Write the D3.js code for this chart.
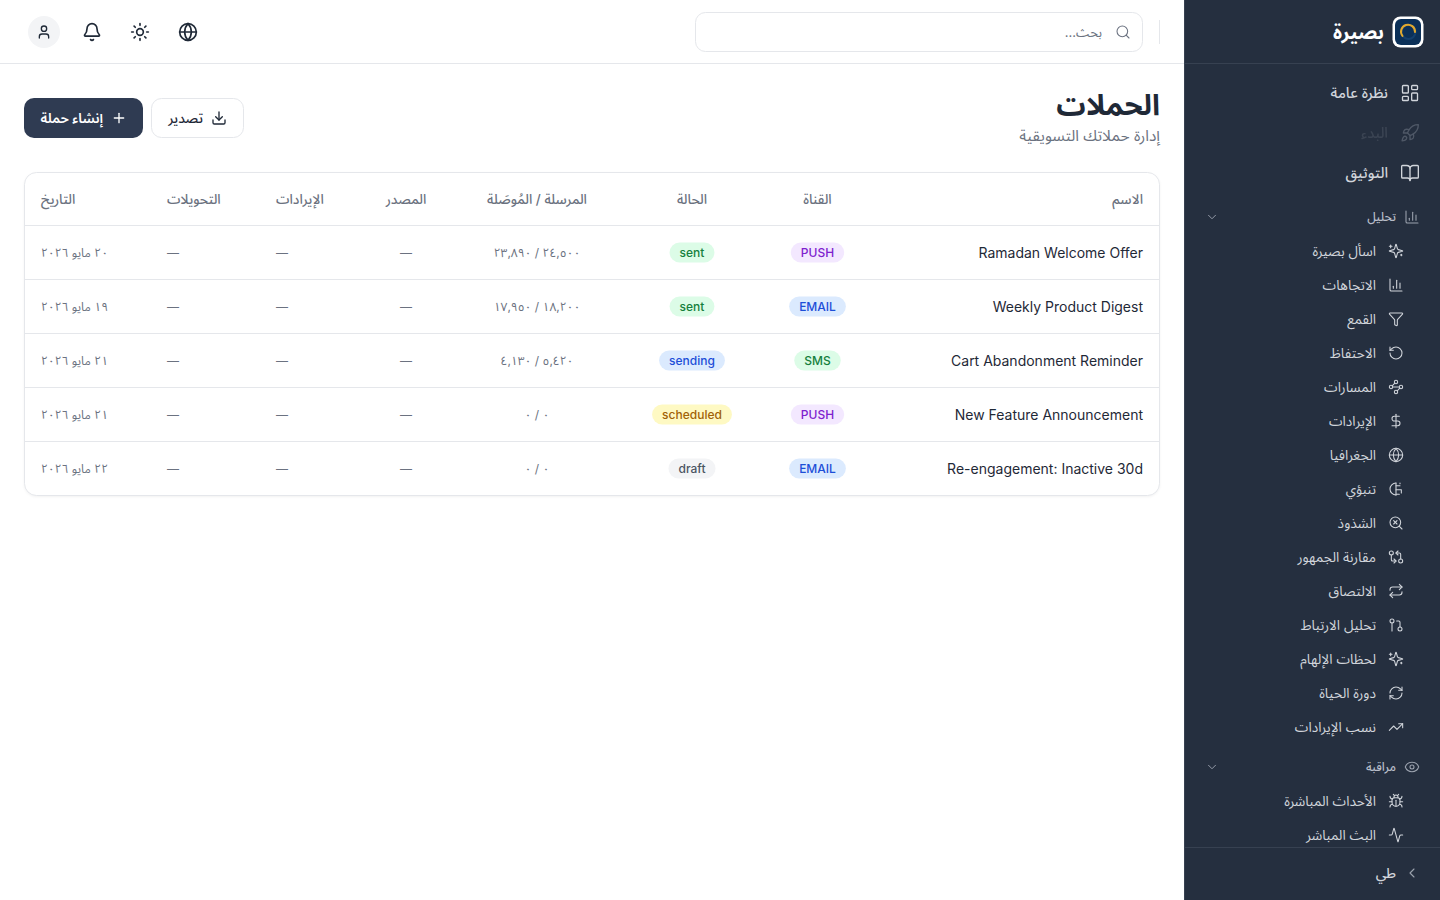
<!DOCTYPE html>
<html lang="ar">
<head>
  <meta charset="utf-8">
  <title>الحملات</title>
  <script src="https://d3js.org/d3.v7.min.js"></script>
  <style>
    html, body { margin: 0; padding: 0; background: #fff; overflow: hidden; }
    svg { display: block; font-family: Inter, "Noto Sans Arabic", "Noto Sans", sans-serif; }
  </style>
</head>
<body>
  <div id="page"></div>
  <script>
    // table data
    const names = ["Ramadan Welcome Offer", "Weekly Product Digest", "Cart Abandonment Reminder", "New Feature Announcement", "Re-engagement: Inactive 30d"];
    const channels = ["PUSH", "EMAIL", "SMS", "PUSH", "EMAIL"];
    const statuses = ["sent", "sent", "sending", "scheduled", "draft"];
    const sent = [24500, 18200, 5420, 0, 0];
    const delivered = [23890, 17950, 4130, 0, 0];
    const days = [20, 19, 21, 21, 22];
    const headers = ["الاسم", "القناة", "الحالة", "المرسلة / المُوصَلة", "المصدر", "الإيرادات", "التحويلات", "التاريخ"];

    // sidebar data
    const topItems = [["نظرة عامة", "dashboard"], ["البدء", "rocket"], ["التوثيق", "book"]];
    const analysisItems = [
      ["اسأل بصيرة", "sparkles"], ["الاتجاهات", "chart"], ["القمع", "filter"], ["الاحتفاظ", "rotate"],
      ["المسارات", "waypoints"], ["الإيرادات", "dollar"], ["الجغرافيا", "globe"], ["تنبؤي", "predict"],
      ["الشذوذ", "searchx"], ["مقارنة الجمهور", "compare"], ["الالتصاق", "repeat"], ["تحليل الارتباط", "correlate"],
      ["لحظات الإلهام", "sparkles"], ["دورة الحياة", "refresh"], ["نسب الإيرادات", "trending"]
    ];
    const monitorItems = [["الأحداث المباشرة", "bug"], ["البث المباشر", "activity"]];

    const circle = (cx, cy, r) => `M${cx - r} ${cy}a${r} ${r} 0 1 0 ${2 * r} 0a${r} ${r} 0 1 0 ${-2 * r} 0`;
    const box = (x, y, w, h, r) => `M${x + r} ${y}h${w - 2 * r}a${r} ${r} 0 0 1 ${r} ${r}v${h - 2 * r}a${r} ${r} 0 0 1 ${-r} ${r}h${-(w - 2 * r)}a${r} ${r} 0 0 1 ${-r} ${-r}v${-(h - 2 * r)}a${r} ${r} 0 0 1 ${r} ${-r}z`;

    // lucide style outlines on a 24 grid
    const icons = {
      dashboard: [box(3, 3, 7, 9, 1), box(14, 3, 7, 5, 1), box(14, 12, 7, 9, 1), box(3, 16, 7, 5, 1)],
      rocket: ["M4.5 16.5c-1.5 1.26-2 5-2 5s3.74-.5 5-2c.71-.84.7-2.13-.09-2.91a2.18 2.18 0 0 0-2.91-.09z", "m12 15-3-3a22 22 0 0 1 2-3.95A12.88 12.88 0 0 1 22 2c0 2.72-.78 7.5-6 11a22.35 22.35 0 0 1-4 2z", "M9 12H4s.55-3.03 2-4c1.62-1.08 5 0 5 0", "M12 15v5s3.03-.55 4-2c1.08-1.62 0-5 0-5"],
      book: ["M12 7v14", "M3 18a1 1 0 0 1-1-1V4a1 1 0 0 1 1-1h5a4 4 0 0 1 4 4 4 4 0 0 1 4-4h5a1 1 0 0 1 1 1v13a1 1 0 0 1-1 1h-6a3 3 0 0 0-3 3 3 3 0 0 0-3-3z"],
      chart: ["M3 3v16a2 2 0 0 0 2 2h16", "M18 17V9", "M13 17V5", "M8 17v-3"],
      sparkles: ["M14.063 15.5A2 2 0 0 1 15.5 14.063l6.135-1.582a.5.5 0 0 0 0-.962L15.5 9.936A2 2 0 0 1 14.063 8.5l-1.582-6.135a.5.5 0 0 0-.963 0L9.937 8.5A2 2 0 0 1 8.5 9.937l-6.135 1.581a.5.5 0 0 0 0 .964L8.5 14.063a2 2 0 0 1 1.437 1.437l1.582 6.135a.5.5 0 0 0 .963 0z", "M4 3v4", "M2 5h4", "M20 17v2", "M19 18h2"],
      filter: ["M10 20a1 1 0 0 0 .553.895l2 1A1 1 0 0 0 14 21v-7a2 2 0 0 1 .517-1.341L21.74 4.67A1 1 0 0 0 21 3H3a1 1 0 0 0-.742 1.67l7.225 7.989A2 2 0 0 1 10 14z"],
      rotate: ["M3 12a9 9 0 1 0 9-9 9.75 9.75 0 0 0-6.74 2.74L3 8", "M3 3v5h5"],
      waypoints: [circle(12, 4.5, 2.5), "m10.2 6.3-3.9 3.9", circle(4.5, 12, 2.5), "M7 12h10", circle(19.5, 12, 2.5), "m13.8 17.7 3.9-3.9", circle(12, 19.5, 2.5)],
      dollar: ["M12 2v20", "M17 5H9.5a3.5 3.5 0 0 0 0 7h5a3.5 3.5 0 0 1 0 7H6"],
      globe: [circle(12, 12, 10), "M12 2a14.5 14.5 0 0 0 0 20 14.5 14.5 0 0 0 0-20", "M2 12h20"],
      predict: ["M12 3a9 9 0 0 0 0 18", "M12 3v18", "M12 7h6", "M18 3v1", "M12 13h7", "M20 13v5", "M12 20h5"],
      searchx: ["m13.5 8.5-5 5", "m8.5 8.5 5 5", circle(11, 11, 8), "m21 21-4.3-4.3"],
      compare: [circle(5, 6, 3), "M12 6h5a2 2 0 0 1 2 2v7", "m15 9-3-3 3-3", circle(19, 18, 3), "M12 18H7a2 2 0 0 1-2-2V9", "m9 15 3 3-3 3"],
      repeat: ["m17 2 4 4-4 4", "M3 11v-1a4 4 0 0 1 4-4h14", "m7 22-4-4 4-4", "M21 13v1a4 4 0 0 1-4 4H3"],
      correlate: [circle(18, 18, 3), circle(6, 6, 3), "M13 6h3a2 2 0 0 1 2 2v7", "M6 9v12"],
      refresh: ["M3 12a9 9 0 0 1 9-9 9.75 9.75 0 0 1 6.74 2.74L21 8", "M21 3v5h-5", "M21 12a9 9 0 0 1-9 9 9.75 9.75 0 0 1-6.74-2.74L3 16", "M8 16H3v5"],
      trending: ["M22 7 13.5 15.5 8.5 10.5 2 17", "M16 7h6v6"],
      eye: ["M2.062 12.348a1 1 0 0 1 0-.696 10.75 10.75 0 0 1 19.876 0 1 1 0 0 1 0 .696 10.75 10.75 0 0 1-19.876 0", circle(12, 12, 3)],
      bug: ["m8 2 1.88 1.88", "M14.12 3.88 16 2", "M9 7.13v-1a3.003 3.003 0 1 1 6 0v1", "M12 20c-3.3 0-6-2.7-6-6v-3a4 4 0 0 1 4-4h4a4 4 0 0 1 4 4v3c0 3.3-2.7 6-6 6", "M12 20v-9", "M6.53 9C4.6 8.8 3 7.1 3 5", "M6 13H2", "M3 21c0-2.1 1.7-3.9 3.8-4", "M20.97 5c0 2.1-1.6 3.8-3.5 4", "M22 13h-4", "M17.2 17c2.1.1 3.8 1.9 3.8 4"],
      activity: ["M22 12h-2.48a2 2 0 0 0-1.93 1.46l-2.35 8.36a.25.25 0 0 1-.48 0L9.24 2.18a.25.25 0 0 0-.48 0l-2.35 8.36A2 2 0 0 1 4.49 12H2"],
      chevronDown: ["m6 9 6 6 6-6"],
      chevronLeft: ["m15 18-6-6 6-6"],
      search: ["m21 21-4.34-4.34", circle(11, 11, 8)],
      bell: ["M10.268 21a2 2 0 0 0 3.464 0", "M3.262 15.326A1 1 0 0 0 4 17h16a1 1 0 0 0 .74-1.673C19.41 13.956 18 12.499 18 8A6 6 0 0 0 6 8c0 4.499-1.411 5.956-2.738 7.326"],
      sun: [circle(12, 12, 4), "M12 2v2", "M12 20v2", "m4.93 4.93 1.41 1.41", "m17.66 17.66 1.41 1.41", "M2 12h2", "M20 12h2", "m6.34 17.66-1.41 1.41", "m19.07 4.93-1.41 1.41"],
      user: ["M19 21v-2a4 4 0 0 0-4-4H9a4 4 0 0 0-4 4v2", circle(12, 7, 4)],
      download: ["M12 15V3", "M21 15v4a2 2 0 0 1-2 2H5a2 2 0 0 1-2-2v-4", "m7 10 5 5 5-5"],
      plus: ["M5 12h14", "M12 5v14"]
    };

    const width = 1440, height = 900;
    const svg = d3.select("#page").append("svg").attr("width", width).attr("height", height);

    function icon(name, cx, cy, size, color, sw = 2, opacity = 1) {
      const g = svg.append("g")
        .attr("transform", `translate(${cx - size / 2},${cy - size / 2}) scale(${size / 24})`)
        .attr("fill", "none").attr("stroke", color).attr("stroke-width", sw)
        .attr("stroke-linecap", "round").attr("stroke-linejoin", "round").attr("opacity", opacity);
      g.selectAll("path").data(icons[name]).join("path").attr("d", d => d);
    }

    // anchor is the visual side: "right", "left", "middle"
    function label(txt, x, y, size, color, weight = 400, anchor = "right", rtl = true, opacity = 1) {
      const a = anchor === "middle" ? "middle" : ((anchor === "right") === rtl ? "start" : "end");
      return svg.append("text").text(txt)
        .attr("x", x).attr("y", y).attr("dy", "0.35em")
        .attr("direction", rtl ? "rtl" : "ltr").attr("text-anchor", a)
        .attr("font-size", size).attr("font-weight", weight).attr("fill", color).attr("opacity", opacity);
    }

    /* ---- sidebar ---- */
    svg.append("rect").attr("x", 1184).attr("y", 0).attr("width", 256).attr("height", 900).attr("fill", "#252f3f");
    svg.append("rect").attr("x", 1184).attr("y", 0).attr("width", 1).attr("height", 900).attr("fill", "#374151");
    svg.append("rect").attr("x", 1185).attr("y", 63).attr("width", 255).attr("height", 1).attr("fill", "#374151");
    svg.append("rect").attr("x", 1185).attr("y", 847).attr("width", 255).attr("height", 1).attr("fill", "#374151");

    // logo
    svg.append("rect").attr("x", 1392.5).attr("y", 16.5).attr("width", 31).attr("height", 31).attr("rx", 8).attr("fill", "#fff");
    svg.append("rect").attr("x", 1395).attr("y", 19).attr("width", 26).attr("height", 26).attr("rx", 6).attr("fill", "#0b3058");
    svg.append("circle").attr("cx", 1408.5).attr("cy", 32).attr("r", 7).attr("fill", "none").attr("stroke", "#14406e").attr("stroke-width", 2);
    svg.append("path").attr("d", "M1402.5 36a7 7 0 1 1 12.5-4").attr("fill", "none").attr("stroke", "#e0a92e").attr("stroke-width", 2).attr("stroke-linecap", "round");
    label("بصيرة", 1384, 32, 19.5, "#ffffff", 700);

    const topY = d3.scalePoint().domain(topItems.map(d => d[0])).range([93, 173]);
    topItems.forEach(([t, ic], i) => {
      icon(ic, 1410, topY(t), 20, i === 1 ? "#9ca3af" : "#d1d5db", 1.6, i === 1 ? 0.35 : 1);
      label(t, 1388, topY(t), 14.6, "#d1d5db", 500, "right", true, i === 1 ? 0.12 : 1);
    });

    function group(title, ic, y) {
      icon(ic, 1412, y, 16, "#9ca3af", 1.6);
      label(title, 1396, y, 12, "#b8bec9", 500);
      icon("chevronDown", 1212, y, 14, "#9ca3af", 1.6);
    }
    function subItems(items, y0, y1) {
      const y = d3.scalePoint().domain(d3.range(items.length)).range([y0, y1]);
      items.forEach(([t, ic], i) => {
        icon(ic, 1396, y(i), 16, "#d1d5db", 1.6);
        label(t, 1376, y(i), 13.7, "#d1d5db", 400);
      });
    }
    group("تحليل", "chart", 217);
    subItems(analysisItems, 251, 727);
    group("مراقبة", "eye", 767);
    subItems(monitorItems, 801, 835);

    label("طي", 1396, 873, 14, "#d1d5db", 500);
    icon("chevronLeft", 1412, 873, 16, "#9ca3af", 1.6);

    /* ---- top bar ---- */
    svg.append("rect").attr("x", 0).attr("y", 63).attr("width", 1184).attr("height", 1).attr("fill", "#e5e7eb");
    svg.append("rect").attr("x", 695.5).attr("y", 12.5).attr("width", 447).attr("height", 39).attr("rx", 10).attr("fill", "#fff").attr("stroke", "#e5e7eb");
    svg.append("rect").attr("x", 1159).attr("y", 20).attr("width", 1).attr("height", 24).attr("fill", "#e5e7eb");
    icon("search", 1123, 32, 16, "#6b7280", 1.6);
    label("بحث...", 1102, 32, 13, "#6b7280");
    svg.append("circle").attr("cx", 44).attr("cy", 32).attr("r", 16).attr("fill", "#f3f4f6");
    icon("user", 44, 32, 16, "#1f2937");
    icon("bell", 92, 32, 20, "#1f2937", 2);
    icon("sun", 140, 32, 20, "#1f2937", 2);
    icon("globe", 188, 32, 20, "#1f2937", 2);

    /* ---- page heading ---- */
    label("الحملات", 1160, 105, 29.2, "#1f2937", 700);
    label("إدارة حملاتك التسويقية", 1160, 136, 15.5, "#6b7280");

    svg.append("rect").attr("x", 24).attr("y", 98).attr("width", 119).attr("height", 40).attr("rx", 10).attr("fill", "#2f3b52");
    icon("plus", 119, 118, 16, "#fff");
    label("إنشاء حملة", 103, 118, 13.6, "#ffffff", 600);
    svg.append("rect").attr("x", 151.5).attr("y", 98.5).attr("width", 92).attr("height", 39).attr("rx", 10).attr("fill", "#fff").attr("stroke", "#e5e7eb");
    icon("download", 219, 118, 16, "#1f2937");
    label("تصدير", 203, 118, 13.6, "#1f2937", 500);

    /* ---- table ---- */
    const rowsY = d3.scaleBand().domain(d3.range(names.length)).range([226, 496]);
    const headY = 199;
    svg.append("rect").attr("x", 24.5).attr("y", 172.5).attr("width", 1135).attr("height", 323).attr("rx", 12)
      .attr("fill", "#fff").attr("stroke", "#e5e7eb").style("filter", "drop-shadow(0 1px 1px rgba(0,0,0,0.05))");
    svg.selectAll("line.row").data(d3.range(names.length)).join("line").attr("class", "row")
      .attr("x1", 25).attr("x2", 1159)
      .attr("y1", i => rowsY(i) - 0.5).attr("y2", i => rowsY(i) - 0.5)
      .attr("stroke", "#e5e7eb");

    // column anchors, same order as headers
    const colX = d3.scaleOrdinal().domain(headers).range([1143, 817.5, 692, 537, 406, 276, 167, 41]);
    const colSide = d3.scaleOrdinal().domain(headers).range(["right", "middle", "middle", "middle", "middle", "left", "left", "left"]);
    headers.forEach(h => {
      label(h, colX(h), headY, 13.5, "#6b7280", 500, colSide(h));
    });

    const arLocale = d3.formatLocale({
      decimal: ".", thousands: ",", grouping: [3], currency: ["", ""],
      numerals: ["٠", "١", "٢", "٣", "٤", "٥", "٦", "٧", "٨", "٩"]
    });
    const fmt = arLocale.format(",d");
    const plain = arLocale.format("d");

    const badgeColors = {
      PUSH: ["#f3e8ff", "#7e22ce"], EMAIL: ["#dbeafe", "#1d4ed8"], SMS: ["#dcfce7", "#15803d"],
      sent: ["#dcfce7", "#15803d"], sending: ["#dbeafe", "#1d4ed8"], scheduled: ["#fef9c3", "#a16207"], draft: ["#f3f4f6", "#4b5563"]
    };
    function badge(txt, cx, cy) {
      const [bg, fg] = badgeColors[txt];
      const r = svg.append("rect");
      const t = label(txt, cx, cy, 12, fg, 500, "middle", false);
      const w = t.node().getComputedTextLength() + 20;
      r.attr("x", cx - w / 2).attr("y", cy - 10).attr("width", w).attr("height", 20).attr("rx", 10).attr("fill", bg);
    }

    names.forEach((n, i) => {
      const y = rowsY(i) + rowsY.bandwidth() / 2 - 0.5;
      label(n, colX(headers[0]), y + 1, 14, "#1f2937", 400, "right", false);
      badge(channels[i], colX(headers[1]), y);
      badge(statuses[i], colX(headers[2]), y);
      label(`${fmt(sent[i])} / ${fmt(delivered[i])}`, colX(headers[3]), y + 0.5, 12, "#6b7280", 400, "middle");
      label("—", colX(headers[4]), y + 0.5, 12, "#6b7280", 400, "middle");
      label("—", colX(headers[5]), y + 0.5, 12, "#6b7280", 400, "left");
      label("—", colX(headers[6]), y + 0.5, 12, "#6b7280", 400, "left");
      label(`${plain(days[i])} مايو ${plain(2026)}`, colX(headers[7]), y + 0.5, 12, "#6b7280", 400, "left");
    });
  </script>
</body>
</html>
